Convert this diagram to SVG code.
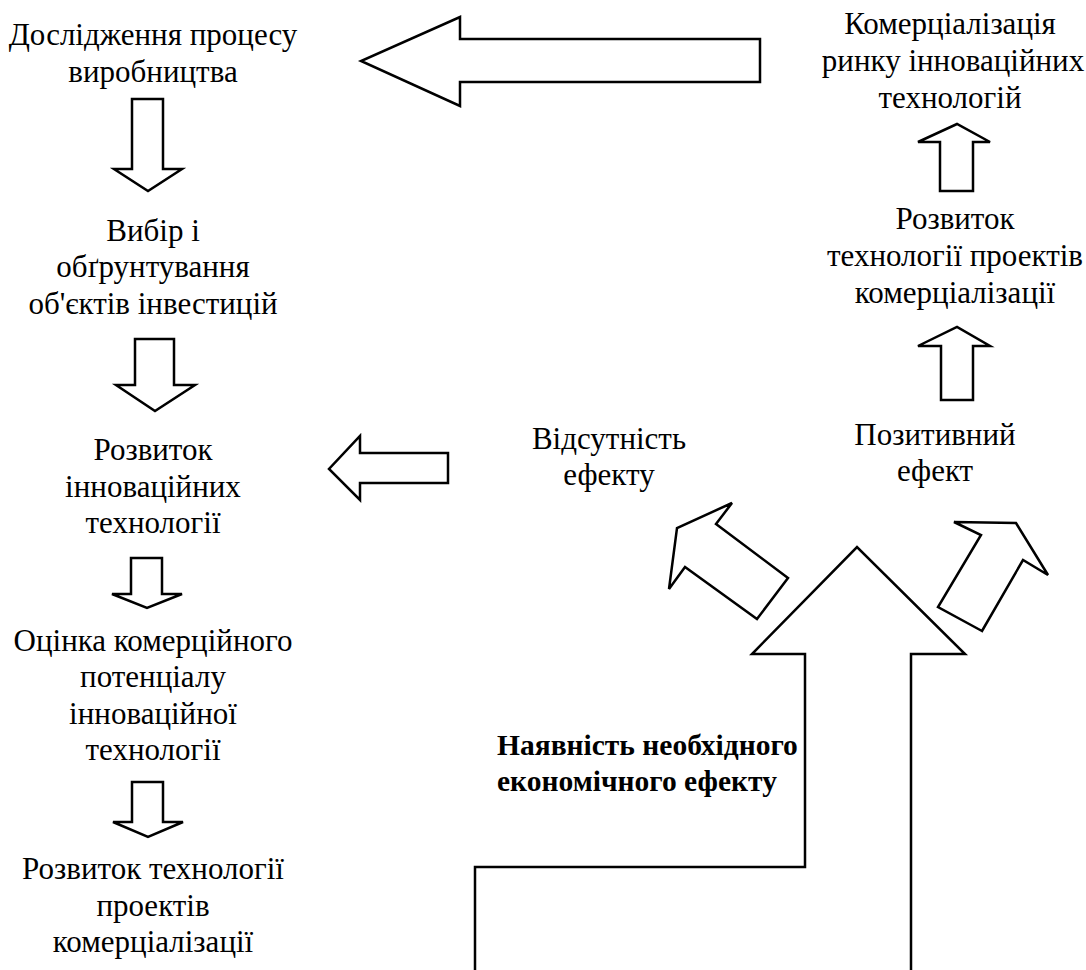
<svg xmlns="http://www.w3.org/2000/svg" width="1086" height="970" viewBox="0 0 1086 970">
<style>
.t{font-size:31px;text-anchor:middle;fill:#000}
.b{font-size:29.5px;font-weight:bold;fill:#000}
.a{fill:#fff;stroke:#000;stroke-width:2.5;stroke-linejoin:miter}
</style>
<rect width="1086" height="970" fill="#fff"/>
<g id="connectors">
<polygon class="a" points="760,39 460,39 460,17 361,61 460,106 460,82 760,82"/>
<polygon class="a" points="132,99 163,99 163,169 182,169 148,191 114,169 132,169"/>
<polygon class="a" points="135,339 174,339 174,385 195,385 155,411 116,385 135,385"/>
<polygon class="a" points="131,558 162,558 162,594 182,594 147,608 112,594 131,594"/>
<polygon class="a" points="132,782 163,782 163,822 183,822 148,837 113,822 132,822"/>
<polygon class="a" points="448,453 360,453 360,436 329,469 360,500 360,483 448,483"/>
<polygon class="a" points="940,191 940,142 918,142 957,124 990,142 973,142 973,191"/>
<polygon class="a" points="941,400 941,346 918,346 957,327 990,346 973,346 973,400"/>
<polygon class="a" points="788,578 757,619 685,567 669,589 677,528 732,503 716,524"/>
<polygon class="a" points="982,631 938,607 981,535 954,522 1016,523 1048,575 1023,560"/>
<path class="a" d="M475,975 L475,867 L805,867 L805,654 L752,654 L857,547 L965,654 L911,654 L911,975"/>
</g>
<g font-family="Liberation Serif, Times New Roman, serif">
<g id="n1"><text class="t" x="153" y="45">Дослідження процесу</text><text class="t" x="153" y="82">виробництва</text></g>
<g id="n2"><text class="t" x="153" y="241">Вибір і</text><text class="t" x="153" y="277">обґрунтування</text><text class="t" x="153" y="314">об'єктів інвестицій</text></g>
<g id="n3"><text class="t" x="153" y="460">Розвиток</text><text class="t" x="153" y="497">інноваційних</text><text class="t" x="153" y="533">технології</text></g>
<g id="n4"><text class="t" x="153" y="651">Оцінка комерційного</text><text class="t" x="153" y="687">потенціалу</text><text class="t" x="153" y="724">інноваційної</text><text class="t" x="153" y="760">технології</text></g>
<g id="n5"><text class="t" x="153" y="879">Розвиток технології</text><text class="t" x="153" y="916">проектів</text><text class="t" x="153" y="952">комерціалізації</text></g>
<g id="n6"><text class="t" x="950" y="34">Комерціалізація</text><text class="t" x="953" y="71">ринку інноваційних</text><text class="t" x="950" y="108">технологій</text></g>
<g id="n7"><text class="t" x="955" y="229">Розвиток</text><text class="t" x="955" y="266">технології проектів</text><text class="t" x="955" y="303">комерціалізації</text></g>
<g id="n8"><text class="t" x="935" y="445">Позитивний</text><text class="t" x="935" y="481">ефект</text></g>
<g id="n9"><text class="t" x="609" y="449">Відсутність</text><text class="t" x="609" y="485">ефекту</text></g>
<g id="n10"><text class="b" x="497" y="755">Наявність необхідного</text><text class="b" x="497" y="791">економічного ефекту</text></g>
</g>
</svg>
